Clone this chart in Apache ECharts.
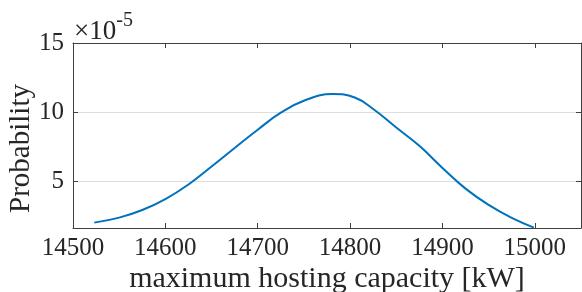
<!DOCTYPE html>
<html>
<head>
<meta charset="utf-8">
<script src="https://cdn.jsdelivr.net/npm/echarts@6/dist/echarts.min.js"></script>
<style>
  html, body { margin: 0; padding: 0; background: #fff; }
  #chart { width: 582px; height: 292px; }
</style>
</head>
<body>
<div id="chart"></div>
<script>
    // values, probability in units of 1e-5
    var capacity = [14523, 14550, 14575, 14600, 14625, 14650, 14675, 14700, 14725, 14750,
                    14781, 14805, 14825, 14850, 14875, 14900, 14925, 14950, 14975, 14999];
    var prob = [1.99, 2.35, 2.90, 3.69, 4.75, 6.05, 7.40, 8.72, 9.95, 10.82,
                11.30, 11.05, 10.22, 8.88, 7.55, 5.95, 4.45, 3.27, 2.33, 1.63];
    var xName = 'maximum hosting capacity [kW]';
    var yName = 'Probability';

    var font = 'Liberation Serif';
    var textColor = '#262626';
    var axisColor = '#404040';

    var data = [];
    for (var i = 0; i < capacity.length; i++) {
        data.push([capacity[i], prob[i]]);
    }

    var xBase = {
        type: 'value',
        min: 14500,
        max: 15050,
        interval: 100,
        axisLine: {show: true, lineStyle: {color: axisColor, width: 1}},
        axisTick: {show: true, inside: true, length: 5, lineStyle: {color: axisColor}},
        splitLine: {show: false}
    };
    var yBase = {
        type: 'value',
        min: 1.6,
        max: 15,
        minInterval: 5,
        maxInterval: 5,
        splitNumber: 3,
        axisLine: {show: true, lineStyle: {color: axisColor, width: 1}},
        axisTick: {show: true, inside: true, length: 5, lineStyle: {color: axisColor}}
    };

    var chart = echarts.init(document.getElementById('chart'), null, {renderer: 'canvas'});
    var option = {
        animation: false,
        backgroundColor: '#fff',
        grid: {left: 73, right: 1, top: 43, bottom: 64, outerBoundsMode: 'none', containLabel: false},
        graphic: [{
            type: 'text',
            left: 74,
            top: 11,
            style: {
                text: '{a|×10}{b|-5}',
                rich: {
                    a: {fontFamily: font, fontSize: 27, fill: textColor, verticalAlign: 'bottom'},
                    b: {fontFamily: font, fontSize: 20, fill: textColor, verticalAlign: 'top', padding: [0, 0, 14, 0]}
                }
            }
        }],
        xAxis: [
            Object.assign({}, xBase, {
                position: 'bottom',
                name: xName,
                nameLocation: 'middle',
                nameGap: 36,
                nameMoveOverlap: false,
                nameTextStyle: {fontFamily: font, fontSize: 30, color: textColor},
                axisLabel: {
                    fontFamily: font, fontSize: 25, color: textColor, margin: 8,
                    showMaxLabel: false,
                    formatter: function (v) { return String(v); }
                }
            }),
            Object.assign({}, xBase, {
                position: 'top',
                axisLabel: {show: false}
            })
        ],
        yAxis: [
            Object.assign({}, yBase, {
                position: 'left',
                name: yName,
                nameLocation: 'middle',
                nameGap: 37,
                nameMoveOverlap: false,
                nameTextStyle: {fontFamily: font, fontSize: 29, color: textColor, padding: [0, 26, 0, 0]},
                axisLabel: {
                    fontFamily: font, fontSize: 25, color: textColor, margin: 9,
                    showMinLabel: false,
                    formatter: function (v) { return String(v); }
                },
                splitLine: {show: true, lineStyle: {color: '#dedede', width: 1}}
            }),
            Object.assign({}, yBase, {
                position: 'right',
                axisLabel: {show: false},
                splitLine: {show: false}
            })
        ],
        series: [{
            type: 'line',
            data: data,
            smooth: 0.45,
            showSymbol: false,
            lineStyle: {color: '#0072BD', width: 2},
            xAxisIndex: 0,
            yAxisIndex: 0
        }]
    };
    chart.setOption(option);
</script>
</body>
</html>
